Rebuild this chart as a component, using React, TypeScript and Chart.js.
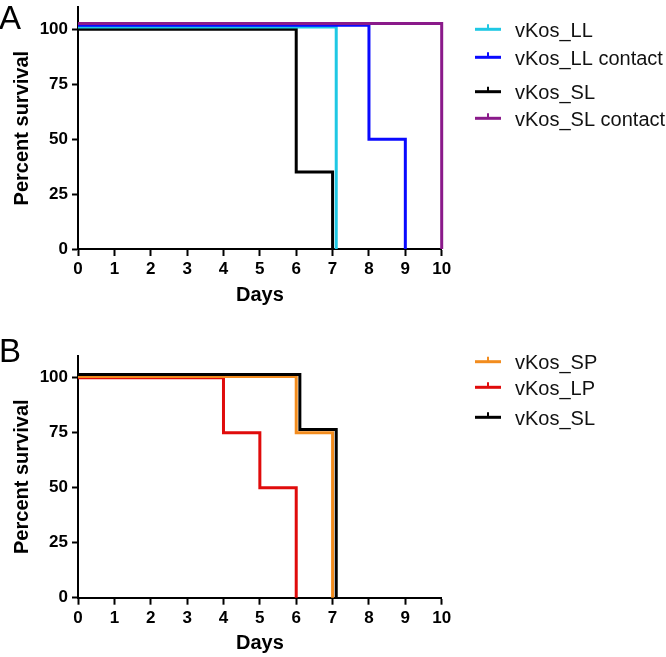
import React, { useEffect, useRef } from 'react';
import { Chart, registerables } from 'chart.js';

Chart.register(...registerables);

// ---------- data ----------
const xTickValues = [0, 1, 2, 3, 4, 5, 6, 7, 8, 9, 10];
const yTickValues = [0, 25, 50, 75, 100];

// Panel A
const llDays = [0, 7.1];
const llSurvival = [101, 0];
const llContactDays = [0, 8, 9];
const llContactSurvival = [101.8, 50, 0];
const slDaysA = [0, 6, 7];
const slSurvivalA = [100, 35, 0];
const slContactDays = [0, 10];
const slContactSurvival = [102.6, 0];

// Panel B
const spDays = [0, 6, 7];
const spSurvival = [100.5, 75, 0];
const lpDays = [0, 4, 5, 6];
const lpSurvival = [100, 75, 50, 0];
const slDaysB = [0, 6.1, 7.1];
const slSurvivalB = [101.5, 76.5, 0];

const FONT = '"Liberation Sans", Arial, sans-serif';

function series(label: string, color: string, days: number[], values: number[], order: number) {
  return {
    label,
    data: days.map((d, i) => ({ x: d, y: values[i] })),
    borderColor: color,
    backgroundColor: color,
    borderWidth: 3,
    pointRadius: 0,
    stepped: 'before' as const,
    fill: false,
    clip: false,
    order,
  };
}

const datasetsA = () => [
  series('vKos_LL', '#1fc8e4', llDays, llSurvival, 2),
  series('vKos_LL contact', '#0a0aff', llContactDays, llContactSurvival, 1),
  series('vKos_SL', '#000000', slDaysA, slSurvivalA, 3),
  series('vKos_SL contact', '#8a1a8a', slContactDays, slContactSurvival, 0),
];

const datasetsB = () => [
  series('vKos_SP', '#f28c1e', spDays, spSurvival, 1),
  series('vKos_LP', '#e00b0b', lpDays, lpSurvival, 2),
  series('vKos_SL', '#000000', slDaysB, slSurvivalB, 0),
];

type PanelProps = {
  top: number;
  height: number;
  padTop: number;
  xAxisHeight: number;
  letter: string;
  letterBaseline: number;
  legendRows: number[];
  makeDatasets: () => any[];
};

function Panel({ top, height, padTop, xAxisHeight, letter, letterBaseline, legendRows, makeDatasets }: PanelProps) {
  const ref = useRef<HTMLCanvasElement>(null);

  useEffect(() => {
    const overlay = {
      id: 'overlay',
      afterDraw(chart: any) {
        const ctx = chart.ctx as CanvasRenderingContext2D;
        ctx.save();
        // panel letter
        ctx.fillStyle = '#000';
        ctx.font = `33px ${FONT}`;
        ctx.textBaseline = 'alphabetic';
        ctx.textAlign = 'left';
        ctx.fillText(letter, -1, letterBaseline);
        // legend
        chart.data.datasets.forEach((ds: any, i: number) => {
          const y = legendRows[i];
          ctx.strokeStyle = ds.borderColor;
          ctx.lineWidth = 3;
          ctx.beginPath();
          ctx.moveTo(475, y);
          ctx.lineTo(501, y);
          ctx.stroke();
          ctx.lineWidth = 2;
          ctx.beginPath();
          ctx.moveTo(488, y);
          ctx.lineTo(488, y - 5);
          ctx.stroke();
          ctx.fillStyle = '#111';
          ctx.font = `20px ${FONT}`;
          ctx.textBaseline = 'middle';
          ctx.fillText(ds.label, 515, y + 2);
        });
        ctx.restore();
      },
    };

    const tickFont = { family: FONT, size: 17, weight: 'bold' as const };
    const titleFont = { family: FONT, size: 20, weight: 'bold' as const };

    const chart = new Chart(ref.current!, {
      type: 'line',
      data: { datasets: makeDatasets() },
      options: {
        animation: false,
        responsive: false,
        events: [],
        layout: { padding: { left: 0, right: 224.3, top: padTop, bottom: 0 } },
        plugins: { legend: { display: false }, tooltip: { enabled: false } },
        scales: {
          x: {
            type: 'linear',
            min: 0,
            max: 10,
            afterBuildTicks: (s: any) => {
              s.ticks = xTickValues.map((v) => ({ value: v }));
            },
            afterFit: (s: any) => {
              s.height = xAxisHeight;
              s.paddingLeft = 0;
              s.paddingRight = 0;
            },
            grid: {
              display: true,
              drawOnChartArea: false,
              drawTicks: true,
              tickLength: 7,
              tickWidth: 2,
              tickColor: '#000',
            },
            border: { display: true, color: '#000', width: 2 },
            ticks: {
              color: '#000',
              font: tickFont,
              padding: 3,
              maxRotation: 0,
              autoSkip: false,
            },
            title: {
              display: true,
              text: 'Days',
              color: '#000',
              font: titleFont,
              padding: { top: 0, bottom: 2 },
            },
          },
          y: {
            type: 'linear',
            min: 0,
            max: 110,
            afterBuildTicks: (s: any) => {
              s.ticks = yTickValues.map((v) => ({ value: v }));
            },
            afterFit: (s: any) => {
              s.width = 78;
              s.paddingTop = 0;
              s.paddingBottom = 0;
            },
            grid: {
              display: true,
              drawOnChartArea: false,
              drawTicks: true,
              tickLength: 6,
              tickWidth: 2,
              tickColor: '#000',
            },
            border: { display: true, color: '#000', width: 2 },
            ticks: {
              color: '#000',
              font: tickFont,
              padding: 4,
              autoSkip: false,
            },
            title: {
              display: true,
              text: 'Percent survival',
              color: '#000',
              font: titleFont,
              padding: { top: 10, bottom: 0 },
            },
          },
        },
      },
      plugins: [overlay],
    } as any);
    return () => chart.destroy();
  }, []);

  return (
    <canvas
      ref={ref}
      width={666}
      height={height}
      style={{ position: 'absolute', left: 0, top, width: 666, height, display: 'block' }}
    />
  );
}

export default function App() {
  return (
    <div style={{ position: 'absolute', left: 0, top: 0, width: 666, height: 657, background: '#fff', overflow: 'hidden' }}>
      <Panel
        top={0}
        height={309}
        padTop={7.3}
        xAxisHeight={60}
        letter="A"
        letterBaseline={29}
        legendRows={[29.3, 57.3, 91.7, 118.3]}
        makeDatasets={datasetsA}
      />
      <Panel
        top={330}
        height={327}
        padTop={25.7}
        xAxisHeight={59.3}
        letter="B"
        letterBaseline={31.7}
        legendRows={[31.7, 57.3, 87.3]}
        makeDatasets={datasetsB}
      />
    </div>
  );
}
